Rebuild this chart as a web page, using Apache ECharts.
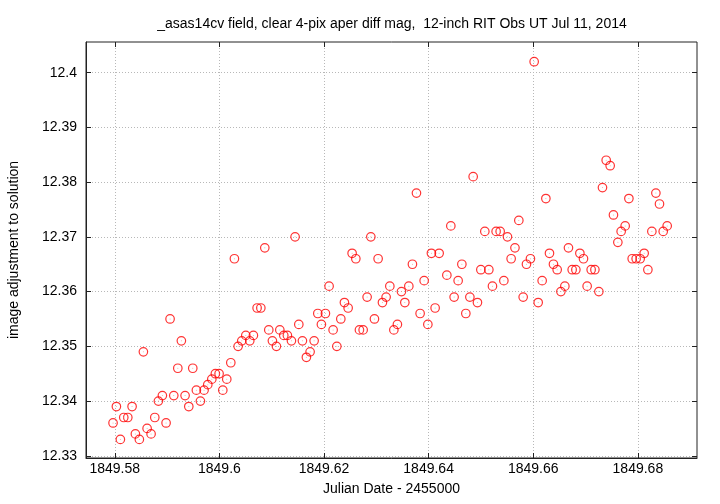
<!DOCTYPE html>
<html>
<head>
<meta charset="utf-8">
<script src="https://cdn.jsdelivr.net/npm/echarts@6/dist/echarts.min.js"></script>
<style>
html,body{margin:0;padding:0;background:#fff;}
#chart{width:720px;height:504px;}
</style>
</head>
<body>
<div id="chart"></div>
<script>
// Julian Date - 2455000
var julianDates = [
1849.57967,1849.58031,1849.58107,1849.58172,1849.58249,1849.58331,1849.58394,1849.58470,1849.58547,1849.58618,
1849.58694,1849.58765,1849.58834,1849.58910,1849.58981,1849.59057,1849.59128,1849.59205,1849.59273,1849.59344,
1849.59415,1849.59491,1849.59560,1849.59637,1849.59707,1849.59778,1849.59855,1849.59923,1849.59994,1849.60065,
1849.60141,1849.60218,1849.60287,1849.60358,1849.60428,1849.60505,1849.60581,1849.60650,1849.60721,1849.60792,
1849.60868,1849.60944,1849.61013,1849.61090,1849.61155,1849.61231,1849.61300,1849.61377,1849.61447,1849.61518,
1849.61587,1849.61663,1849.61734,1849.61811,1849.61881,1849.61950,1849.62027,1849.62097,1849.62174,1849.62245,
1849.62321,1849.62390,1849.62461,1849.62537,1849.62608,1849.62677,1849.62748,1849.62824,1849.62895,1849.62964,
1849.63034,1849.63117,1849.63187,1849.63258,1849.63335,1849.63403,1849.63480,1849.63545,1849.63621,1849.63690,
1849.63767,1849.63837,1849.63914,1849.63985,1849.64053,1849.64124,1849.64201,1849.64348,1849.64424,1849.64487,
1849.64564,1849.64635,1849.64711,1849.64788,1849.64851,1849.64933,1849.64998,1849.65074,1849.65151,1849.65220,
1849.65290,1849.65367,1849.65438,1849.65507,1849.65577,1849.65650,1849.65724,1849.65807,1849.65870,1849.65946,
1849.66017,1849.66094,1849.66170,1849.66241,1849.66310,1849.66386,1849.66457,1849.66528,1849.66604,1849.66673,
1849.66744,1849.66814,1849.66891,1849.66960,1849.67030,1849.67107,1849.67178,1849.67254,1849.67323,1849.67394,
1849.67470,1849.67533,1849.67617,1849.67680,1849.67757,1849.67828,1849.67891,1849.67967,1849.68044,1849.68120,
1849.68191,1849.68267,1849.68344,1849.68413,1849.68484,1849.68560
];
// image adjustment to solution (mag)
var adjustments = [
12.336,12.339,12.333,12.337,12.337,12.339,12.334,12.333,12.349,12.335,
12.334,12.337,12.340,12.341,12.336,12.355,12.341,12.346,12.351,12.341,
12.339,12.346,12.342,12.340,12.342,12.343,12.344,12.345,12.345,12.342,
12.344,12.347,12.366,12.350,12.351,12.352,12.351,12.352,12.357,12.357,
12.368,12.353,12.351,12.350,12.353,12.352,12.352,12.351,12.370,12.354,
12.351,12.348,12.349,12.351,12.356,12.354,12.356,12.361,12.353,12.350,
12.355,12.358,12.357,12.367,12.366,12.353,12.353,12.359,12.370,12.355,
12.366,12.358,12.359,12.361,12.353,12.354,12.360,12.358,12.361,12.365,
12.378,12.356,12.362,12.354,12.367,12.357,12.367,12.363,12.372,12.359,
12.362,12.365,12.356,12.359,12.381,12.358,12.364,12.371,12.364,12.361,
12.371,12.371,12.362,12.370,12.366,12.368,12.373,12.359,12.365,12.366,
12.402,12.358,12.362,12.377,12.367,12.365,12.364,12.360,12.361,12.368,
12.364,12.364,12.367,12.366,12.361,12.364,12.364,12.360,12.379,12.384,
12.383,12.374,12.369,12.371,12.372,12.377,12.366,12.366,12.366,12.367,
12.364,12.371,12.378,12.376,12.371,12.372
];
// tick values
var xTicks = [1849.58, 1849.6, 1849.62, 1849.64, 1849.66, 1849.68];
var yTicks = [12.33, 12.34, 12.35, 12.36, 12.37, 12.38, 12.39, 12.4];
var xMin = 1849.5745, xMax = 1849.6913;
var yMin = 12.3296, yMax = 12.4056;

var titleText = '_asas14cv field, clear 4-pix aper diff mag,  12-inch RIT Obs UT Jul 11, 2014';
var xName = 'Julian Date - 2455000';
var yName = 'image adjustment to solution';

var points = julianDates.map(function (x, i) { return [x, adjustments[i]]; });

var font = 'Liberation Sans, Arial, sans-serif';
var fs = 14;
function fmt(v) { return String(parseFloat(Number(v).toFixed(4))); }
var gridLine = { show: true, lineStyle: { color: '#b8b8b8', type: [1, 2], width: 1 } };
var tickStyle = { color: '#222', width: 1 };

var chart = echarts.init(document.getElementById('chart'), null, { renderer: 'canvas' });
chart.setOption({
  backgroundColor: '#ffffff',
  animation: false,
  title: {
    text: titleText,
    left: 387, top: 12, textAlign: 'center',
    textStyle: { fontFamily: font, fontSize: fs, fontWeight: 'normal', color: '#000' }
  },
  grid: { left: 86, right: 23, top: 42, bottom: 46, show: true, borderColor: '#222', borderWidth: 1, outerBoundsMode: 'none', containLabel: false },
  xAxis: [{
    type: 'value', min: xMin, max: xMax,
    name: xName, nameLocation: 'middle', nameGap: 24,
    nameTextStyle: { fontFamily: font, fontSize: fs, color: '#000' },
    axisLine: { show: true, onZero: false, lineStyle: { color: '#222', width: 1 } },
    axisTick: { show: true, inside: true, length: 5, lineStyle: tickStyle, customValues: xTicks },
    axisLabel: { fontFamily: font, fontSize: fs, color: '#000', margin: 4, customValues: xTicks, formatter: fmt },
    splitLine: gridLine
  }, {
    type: 'value', min: xMin, max: xMax, position: 'top',
    axisLine: { show: false },
    axisTick: { show: true, inside: true, length: 5, lineStyle: tickStyle, customValues: xTicks },
    axisLabel: { show: false },
    splitLine: { show: false }
  }],
  yAxis: [{
    type: 'value', min: yMin, max: yMax,
    name: yName, nameLocation: 'middle', nameGap: 65, nameRotate: 90,
    nameTextStyle: { fontFamily: font, fontSize: fs, color: '#000' },
    axisLine: { show: true, onZero: false, lineStyle: { color: '#222', width: 1 } },
    axisTick: { show: true, inside: true, length: 5, lineStyle: tickStyle, customValues: yTicks },
    axisLabel: { fontFamily: font, fontSize: fs, color: '#000', margin: 9, customValues: yTicks, formatter: fmt },
    splitLine: gridLine
  }, {
    type: 'value', min: yMin, max: yMax, position: 'right',
    axisLine: { show: false },
    axisTick: { show: true, inside: true, length: 5, lineStyle: tickStyle, customValues: yTicks },
    axisLabel: { show: false },
    splitLine: { show: false }
  }],
  series: [{
    type: 'scatter',
    data: points,
    symbol: 'circle',
    symbolSize: 8.5,
    itemStyle: { color: 'rgba(0,0,0,0)', borderColor: '#ff0000', borderWidth: 1.2 },
    silent: true
  }, {
    type: 'scatter',
    data: points,
    symbol: 'circle',
    symbolSize: 1,
    itemStyle: { color: '#ff8080' },
    silent: true
  }]
});
</script>
</body>
</html>
